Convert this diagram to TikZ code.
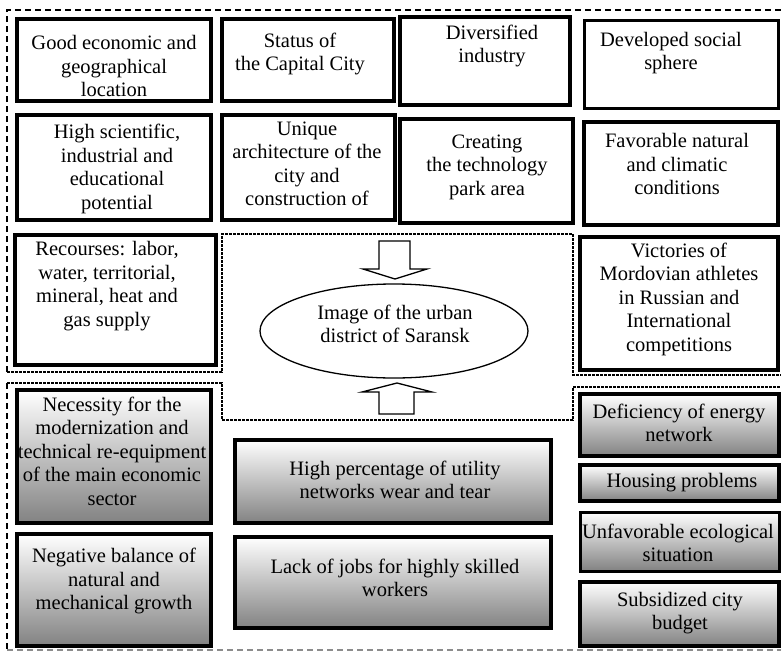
\documentclass[tikz,border=0pt]{standalone}
\usepackage{fontspec}
\setmainfont{Liberation Serif}
\usetikzlibrary{fit,shapes.geometric}
\definecolor{shadegray}{RGB}{130,130,130}
\tikzset{
  frame/.style={draw=black, line width=4pt, fill=white, inner sep=0pt},
  lightframe/.style={frame, line width=3pt},
  shadeframe/.style={draw=black, line width=4pt, top color=white, bottom color=shadegray, inner sep=0pt},
  lightshadeframe/.style={shadeframe, line width=3pt},
  txt/.style={align=center, inner sep=0pt, font=\fontsize{20.5}{23.5}\selectfont},
  outerdash/.style={line width=2.5pt, dash pattern=on 6pt off 4pt},
  greydash/.style={draw=black!45, line width=1.5pt, dash pattern=on 6pt off 4pt},
  dots/.style={line width=2.5pt, dash pattern=on 3pt off 1pt},
  blockarrow/.style={draw=black, line width=1.3pt, fill=white, line join=miter},
}
% a framed cell given by the centre line of its border
\newcommand\cellbox[6]{\node[#6, fit={(#2,#3) (#4,#5)}] (#1) {};}

\begin{document}
\begin{tikzpicture}[x=1pt,y=-1pt]
\useasboundingbox (0,0) rectangle (781,653);

% region outlines
\draw[outerdash] (7,372) -- (7,10) -- (781,10);
\draw[dots] (7,372) -- (222,372) -- (222,234) -- (573,234) -- (573,375) -- (781,375);
\draw[dots] (7,383) -- (222,383) -- (222,420) -- (573,420) -- (573,387) -- (781,387);
\draw[outerdash] (7,383) -- (7,650);
\draw[greydash] (7,650) -- (781,650);

% favourable factors
\cellbox{b1}{17}{19}{211}{101}{frame}
\cellbox{b2}{222}{19}{394}{101}{frame}
\cellbox{b3}{400}{17}{570}{105}{frame}
\cellbox{b4}{584}{20}{778}{108}{lightframe}
\cellbox{b5}{17}{115}{211}{220}{frame}
\cellbox{b6}{222}{115}{395}{220}{frame}
\cellbox{b7}{400}{119}{573}{223}{frame}
\cellbox{b8}{584}{122}{778}{225}{frame}
\cellbox{b9}{15}{235}{216}{365}{frame}
\cellbox{b10}{580}{237}{778}{370}{frame}

\node[txt] (t1) at (114,66) {Good economic and\\geographical\\location};
\node[txt] (t2) at (300,54) {Status of\\the Capital City};
\node[txt] (t3) at (492,46) {Diversified\\industry};
\node[txt] (t4) at (671,53) {Developed social\\sphere};
\node[txt] (t5) at (117,169) {High scientific,\\industrial and\\educational\\potential};
\node[txt] (t6) at (307,164) {Unique\\architecture of the\\city and\\construction of};
\node[txt] (t7) at (487,167) {Creating\\the technology\\park area};
\node[txt] (t8) at (677,164) {Favorable natural\\and climatic\\conditions};
\node[txt] (t9) at (107,286) {Recourses: labor,\\water, territorial,\\mineral, heat and\\gas supply};
\node[txt] (t10) at (679,299) {Victories of\\Mordovian athletes\\in Russian and\\International\\competitions};

% unfavourable factors
\cellbox{c1}{17}{390}{211}{523}{shadeframe}
\cellbox{c2}{17}{534}{211}{646}{shadeframe}
\cellbox{c3}{235}{440}{551}{523}{shadeframe}
\cellbox{c4}{235}{537}{551}{628}{shadeframe}
\cellbox{c5}{580}{394}{779}{456}{shadeframe}
\cellbox{c6}{580}{465}{779}{501}{shadeframe}
\cellbox{c7}{580}{512}{779}{571}{lightshadeframe}
\cellbox{c8}{580}{582}{779}{646}{shadeframe}

\node[txt] (u1) at (112,451) {Necessity for the\\modernization and\\technical re-equipment\\of the main economic\\sector};
\node[txt] (u2) at (114,581) {Negative balance of\\natural and\\mechanical growth};
\node[txt] (u3) at (395,480) {High percentage of utility\\networks wear and tear};
\node[txt] (u4) at (395,578) {Lack of jobs for highly skilled\\workers};
\node[txt] (u5) at (679,423) {Deficiency of energy\\network};
\node[txt] (u6) at (682,483) {Housing problems};
\node[txt] (u7) at (678,543) {Unfavorable ecological\\situation};
\node[txt] (u8) at (680,613) {Subsidized city\\budget};

% central image
\node[draw=black, line width=1.3pt, ellipse, minimum width=268pt, minimum height=94pt, inner sep=0pt] (core) at (394,331) {};
\node[txt] (coretext) at (395,324) {Image of the urban\\district of Saransk};

% block arrows towards the centre
\draw[blockarrow] (379,241) -- (410,241) -- (410,269) -- (427,269) -- (395,279)
  -- (363,269) -- (379,269) -- cycle;
\draw[blockarrow] (379,414) -- (414,414) -- (414,392) -- (432,392) -- (397,383)
  -- (362,392) -- (379,392) -- cycle;
\end{tikzpicture}
\end{document}
